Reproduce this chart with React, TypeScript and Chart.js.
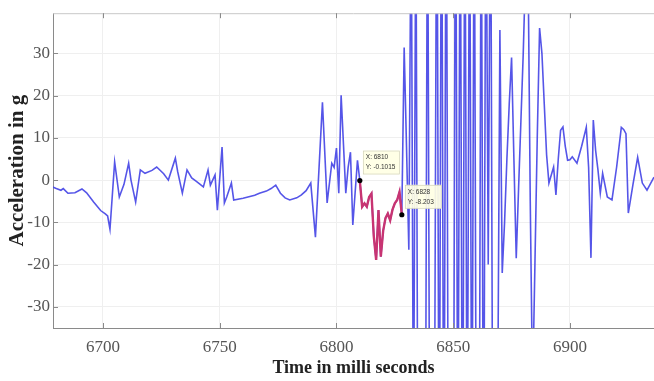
import React, { useEffect, useRef } from 'react';
import { Chart, registerables } from 'chart.js';

Chart.register(...registerables);

// ---- data (time in ms, acceleration in g) ----
const times = [
  6678, 6680, 6682, 6683, 6685, 6688, 6691, 6693, 6696, 6699, 6701, 6702, 6703, 6705, 6707, 6709,
  6711, 6712, 6714, 6716, 6718, 6721, 6723, 6726, 6728, 6731, 6732, 6734, 6736, 6738, 6740, 6743,
  6745, 6746, 6748, 6749, 6751, 6752, 6753, 6755, 6756, 6760, 6765, 6767, 6770, 6772, 6774, 6776,
  6778, 6780, 6783, 6785, 6787, 6789, 6791, 6794, 6796, 6798, 6799, 6800, 6801, 6802, 6804, 6805,
  6806, 6807, 6809, 6810, 6811, 6812, 6813, 6814, 6815, 6816, 6817, 6818, 6819, 6820, 6821, 6822,
  6823, 6824, 6825, 6826, 6827, 6828, 6829, 6830, 6831, 6832, 6833, 6834, 6835, 6836, 6837, 6838,
  6839, 6840, 6841, 6842, 6843, 6844, 6845, 6846, 6847, 6848, 6849, 6850, 6851, 6852, 6853, 6854,
  6855, 6856, 6857, 6858, 6859, 6860, 6861, 6862, 6863, 6864, 6865, 6866, 6867, 6868, 6869, 6870,
  6871, 6872, 6873, 6874, 6875, 6876, 6877, 6878, 6879, 6880, 6881, 6882, 6883, 6884, 6885, 6886,
  6887, 6888, 6889, 6890, 6891, 6893, 6894, 6895, 6896, 6897, 6898, 6899, 6900, 6901, 6903, 6905,
  6907, 6908, 6909, 6910, 6911, 6912, 6913, 6914, 6916, 6918, 6920, 6922, 6923, 6924, 6925, 6927,
  6929, 6931, 6933, 6936,
];
const accel = [
  -1.5, -2.0, -2.4, -2.0, -3.1, -3.0, -2.1, -3.0, -5.2, -7.2, -8.0, -8.5, -11.6, 4.3, -4.0, -1.0,
  4.0, 0.0, -5.2, 2.4, 1.6, 2.3, 3.1, 1.5, 0.0, 5.2, 2.0, -3.1, 2.4, 0.5, -0.3, -1.6,
  2.4, -1.2, 1.2, -7.1, 7.8, -5.4, -4.0, -0.7, -4.7, -4.3, -3.6, -3.1, -2.6, -2.0, -1.2, -3.1,
  -4.2, -4.7, -4.2, -3.5, -2.5, -0.7, -13.5, 18.4, -5.4, 4.0, 3.0, 7.6, -3.1, 20.1, -3.1, 3.0,
  6.6, -10.6, 4.7, -0.1, -6.3, -5.5, -6.3, -4.0, -3.2, -13.4, -18.9, -7.1, -18.1, -12.0, -9.0, -7.9,
  -9.5, -7.0, -5.5, -4.7, -2.8, -8.2, 31.4, 8.0, -16.5, 70, -70, 70, -90, -110, -100, -90,
  80, -80, -100, -60, 90, -90, 90, -90, 90, -90, -120, -100, 90, -80, 80, -90,
  80, -80, 80, -80, 80, -90, -100, 80, -90, 80, -20, 80, -80, -100, -60, 35.5,
  -22, -10, 5, 18, 29, 5, -18.5, -2, 14, 30, 50, 55, -5, -50, -20, 10,
  36, 30, 18, 6, -0.7, 3.1, -3.5, 5, 11.8, 12.6, 8, 4.7, 4.8, 5.5, 4.0, 8.0,
  12.5, 3.0, -18.4, 14.2, 7.0, 2.4, -3.1, 1.6, -4.0, -4.7, 3.1, 12.5, 12.0, 11.0, -7.8, -1.0,
  5.4, -0.7, -2.4, 0.7,
];

const highlightStart = 6810;
const highlightEnd = 6828;
const tipTimes = [6810, 6828];
const tipLabels = ['-0.1015', '-8.203'];

const xTicks = [6700, 6750, 6800, 6850, 6900];
const yTicks = [-30, -20, -10, 0, 10, 20, 30];
const xMin = 6678.6;
const xMax = 6936;
const yMin = -35;
const yMax = 39.5;

const xTitle = 'Time in milli seconds';
const yTitle = 'Acceleration in g';

const SERIF = 'Liberation Serif';

const boxPlugin = {
  id: 'matlabBox',
  afterDraw(chart: any) {
    const { ctx, chartArea: a, scales } = chart;
    ctx.save();
    ctx.strokeStyle = '#c8c8c8';
    ctx.lineWidth = 1;
    ctx.beginPath();
    ctx.moveTo(a.left, a.top + 0.5);
    ctx.lineTo(a.right, a.top + 0.5);
    ctx.stroke();
    ctx.strokeStyle = '#8a8a8a';
    ctx.beginPath();
    xTicks.forEach((v) => {
      const px = Math.round(scales.x.getPixelForValue(v)) + 0.5;
      ctx.moveTo(px, a.bottom);
      ctx.lineTo(px, a.bottom - 5);
      ctx.moveTo(px, a.top);
      ctx.lineTo(px, a.top + 5);
    });
    yTicks.forEach((v) => {
      const py = Math.round(scales.y.getPixelForValue(v)) + 0.5;
      ctx.moveTo(a.left, py);
      ctx.lineTo(a.left + 5, py);
    });
    ctx.stroke();
    ctx.restore();
  },
};

const tipPlugin = {
  id: 'dataTips',
  afterDatasetsDraw(chart: any) {
    const { ctx, scales } = chart;
    ctx.save();
    tipTimes.forEach((t, i) => {
      const idx = times.indexOf(t);
      const px = scales.x.getPixelForValue(t);
      const py = scales.y.getPixelForValue(accel[idx]);
      const bx = px + 3;
      const by = py - 30;
      ctx.fillStyle = 'rgba(255,255,228,0.92)';
      ctx.fillRect(bx, by, 37, 24);
      ctx.strokeStyle = 'rgba(190,190,170,0.8)';
      ctx.lineWidth = 0.6;
      ctx.strokeRect(bx + 0.5, by + 0.5, 36, 23);
      ctx.fillStyle = '#333';
      ctx.font = '6.5px "Liberation Sans", Arial, sans-serif';
      ctx.textBaseline = 'middle';
      ctx.textAlign = 'left';
      ctx.fillText('X: ' + t, bx + 3, by + 7);
      ctx.fillText('Y: ' + tipLabels[i], bx + 3, by + 17);
      ctx.fillStyle = '#000';
      ctx.beginPath();
      ctx.arc(px, py, 2.6, 0, Math.PI * 2);
      ctx.fill();
    });
    ctx.restore();
  },
};

export default function App() {
  const ref = useRef<HTMLCanvasElement | null>(null);

  useEffect(() => {
    if (!ref.current) return;
    const main = times.map((t, i) => ({ x: t, y: accel[i] }));
    const hi = main.filter((p) => p.x >= highlightStart && p.x <= highlightEnd);
    const chart = new Chart(ref.current, {
      type: 'line',
      data: {
        datasets: [
          {
            data: main,
            borderColor: 'rgba(66,66,230,0.9)',
            borderWidth: 1.6,
            pointRadius: 0,
            tension: 0,
            order: 2,
          },
          {
            data: hi,
            borderColor: '#c83472',
            borderWidth: 2.4,
            pointRadius: 0,
            tension: 0,
            order: 1,
          },
        ],
      },
      options: {
        animation: false,
        responsive: false,
        events: [],
        layout: { padding: { top: 13, right: 0, left: 0, bottom: 0 } },
        plugins: {
          legend: { display: false },
          tooltip: { enabled: false },
          title: { display: false },
        },
        scales: {
          x: {
            type: 'linear',
            min: xMin,
            max: xMax,
            afterBuildTicks: (s: any) => {
              s.ticks = xTicks.map((v) => ({ value: v }));
            },
            afterFit: (s: any) => {
              s.height = 53;
            },
            grid: { color: '#efefef', drawTicks: false },
            border: { display: true, color: '#8a8a8a' },
            ticks: {
              padding: 9,
              color: '#555',
              font: { family: SERIF, size: 17 },
              callback: (v: any) => String(v),
            },
            title: {
              display: true,
              text: xTitle,
              color: '#222',
              font: { family: SERIF, size: 18, weight: 'bold' },
              padding: { top: 0, bottom: 2 },
            },
          },
          y: {
            type: 'linear',
            min: yMin,
            max: yMax,
            afterBuildTicks: (s: any) => {
              s.ticks = yTicks.map((v) => ({ value: v }));
            },
            afterFit: (s: any) => {
              s.width = 53;
            },
            grid: { color: '#efefef', drawTicks: false },
            border: { display: true, color: '#8a8a8a' },
            ticks: {
              padding: 3,
              color: '#555',
              font: { family: SERIF, size: 17 },
              callback: (v: any) => String(v),
            },
            title: {
              display: true,
              text: yTitle,
              color: '#222',
              font: { family: SERIF, size: 21, weight: 'bold' },
              padding: { top: 5, bottom: 0 },
            },
          },
        },
      },
      plugins: [boxPlugin, tipPlugin],
    });
    return () => chart.destroy();
  }, []);

  return (
    <div style={{ position: 'fixed', left: 0, top: 0, width: 654, height: 381, background: '#fff' }}>
      <canvas ref={ref} width={654} height={381} style={{ display: 'block' }} />
    </div>
  );
}
